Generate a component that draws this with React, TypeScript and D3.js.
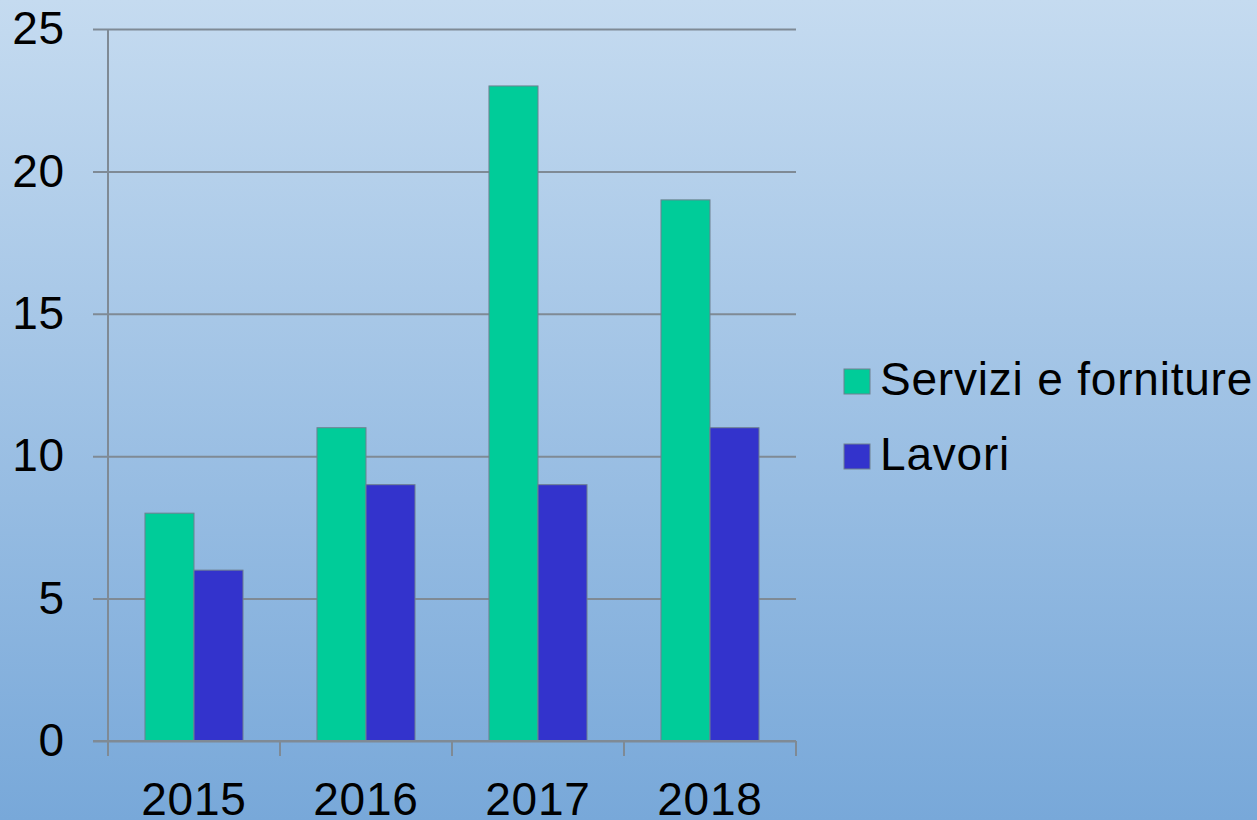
import * as d3 from "d3";
import { useEffect, useRef } from "react";

const years = ["2015", "2016", "2017", "2018"];
const servizi = [8, 11, 23, 19];
const lavori = [6, 9, 9, 11];
const seriesNames = ["Servizi e forniture", "Lavori"];
const seriesColors = ["#00cc99", "#3333cc"];
const yTicks = [0, 5, 10, 15, 20, 25];

const W = 1257;
const H = 820;
const margin = { top: 29, right: 461, bottom: 79, left: 108 };
const FONT = "Liberation Sans, Arial, sans-serif";

export default function App() {
  const ref = useRef<SVGGElement>(null);
  const innerW = W - margin.left - margin.right;
  const innerH = H - margin.top - margin.bottom;

  const x = d3.scaleBand().domain(years).range([0, innerW]).paddingInner(0.43).paddingOuter(0.215);
  const x1 = d3.scaleBand().domain(seriesNames).range([0, x.bandwidth()]);
  const y = d3.scaleLinear().domain([0, 25]).range([innerH, 0]);
  const cat = d3.scalePoint().domain(years).range([0, innerW]).padding(0.5);

  useEffect(() => {
    const g = d3.select(ref.current);
    g.selectAll("*").remove();

    // gridlines + y axis
    const yAxis = d3.axisLeft(y).tickValues(yTicks).tickSizeInner(-innerW).tickSizeOuter(0).tickPadding(43).tickFormat(d3.format("d"));
    const ya = g.append("g").call(yAxis);
    ya.select(".domain").remove();
    ya.selectAll(".tick line").attr("stroke", "#7f8a95").attr("stroke-width", 2).attr("x1", -15);
    ya.selectAll(".tick text").attr("font-size", 46).attr("letter-spacing", 0.8).attr("font-family", FONT).attr("fill", "#000");
    g.append("line").attr("x1", 0).attr("x2", 0).attr("y1", 0).attr("y2", innerH).attr("stroke", "#7f8a95").attr("stroke-width", 2);

    const data = years.map((yr, i) => ({ yr, vals: [servizi[i], lavori[i]] }));
    const groups = g.selectAll(".grp").data(data).join("g").attr("transform", (d) => `translate(${x(d.yr)},0)`);
    groups
      .selectAll("rect")
      .data((d) => d.vals.map((v, k) => ({ v, k })))
      .join("rect")
      .attr("x", (d) => x1(seriesNames[d.k])!)
      .attr("width", x1.bandwidth())
      .attr("y", (d) => y(d.v))
      .attr("height", (d) => innerH - y(d.v))
      .attr("fill", (d) => seriesColors[d.k])
      .attr("stroke", "#6f8090")
      .attr("stroke-width", 1);

    // x axis
    const xa = g.append("g").attr("transform", `translate(0,${innerH})`);
    xa.append("line").attr("x1", -15).attr("x2", innerW).attr("stroke", "#7f8a95").attr("stroke-width", 2);
    const bounds = d3.range(years.length + 1).map((i) => (i * innerW) / years.length);
    xa.selectAll(".tk").data(bounds).join("line").attr("x1", (d) => d).attr("x2", (d) => d).attr("y1", 0).attr("y2", 15).attr("stroke", "#7f8a95").attr("stroke-width", 2);
    xa.selectAll("text")
      .data(years)
      .join("text")
      .attr("x", (d) => cat(d)!)
      .attr("y", 74)
      .attr("text-anchor", "middle")
      .attr("font-size", 46)
      .attr("letter-spacing", 0.8)
      .attr("font-family", FONT)
      .text((d) => d);

    // legend
    const lg = g.append("g").attr("transform", `translate(${844 - margin.left},${369 - margin.top})`);
    seriesNames.forEach((s, i) => {
      lg.append("rect").attr("x", 0).attr("y", i * 75).attr("width", 26).attr("height", 25).attr("fill", seriesColors[i]).attr("stroke", "#6f8090");
      lg.append("text").attr("x", 36).attr("y", i * 75 + 26).attr("font-size", 46).attr("letter-spacing", 0.8).attr("font-family", FONT).text(s);
    });
  }, []);

  return (
    <svg width={W} height={H} style={{ position: "absolute", left: 0, top: 0 }}>
      <defs>
        <linearGradient id="bg" x1="0" y1="0" x2="0" y2="1">
          <stop offset="0" stopColor="#c5dbf0" />
          <stop offset="1" stopColor="#78a8d9" />
        </linearGradient>
      </defs>
      <rect width={W} height={H} fill="url(#bg)" />
      <g ref={ref} transform={`translate(${margin.left},${margin.top})`} />
    </svg>
  );
}
